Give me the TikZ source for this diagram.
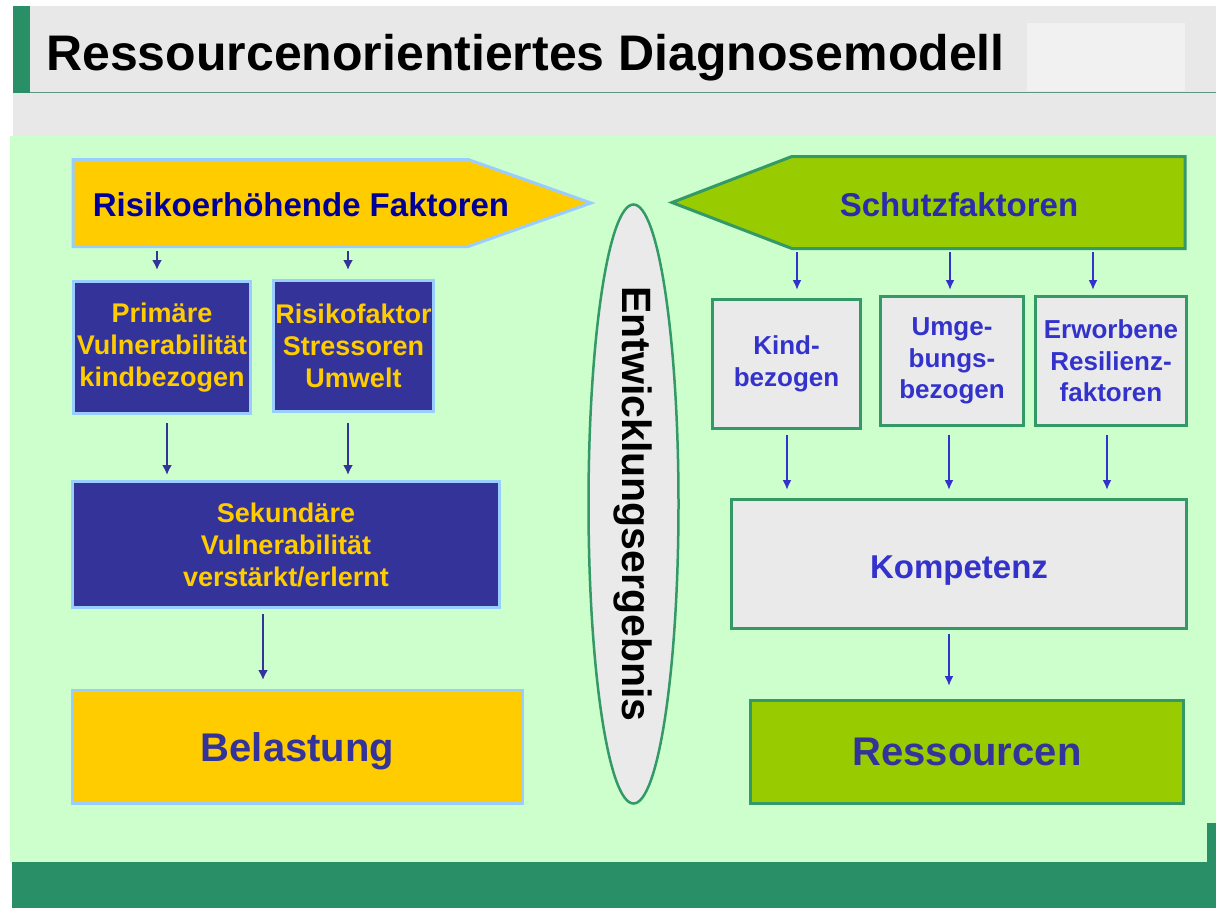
\documentclass[tikz,border=0pt]{standalone}
\usepackage{fontspec}
\setmainfont{Liberation Sans}
\usepackage{tikz}
\usetikzlibrary{shapes.geometric,shapes.symbols,arrows.meta}

\definecolor{darkgreen}{RGB}{40,143,103}
\definecolor{rulegreen}{RGB}{94,150,128}
\definecolor{lightgreen}{RGB}{204,255,204}
\definecolor{bandgrey}{RGB}{232,232,232}
\definecolor{paleband}{RGB}{241,241,241}
\definecolor{boxgrey}{RGB}{234,234,234}
\definecolor{gold}{RGB}{255,204,0}
\definecolor{skyline}{RGB}{153,204,255}
\definecolor{navy}{RGB}{51,51,153}
\definecolor{deepblue}{RGB}{0,0,153}
\definecolor{leaf}{RGB}{153,204,0}
\definecolor{seagreen}{RGB}{51,153,102}
\definecolor{ink}{RGB}{51,51,204}

\begin{document}
\begin{tikzpicture}[x=1pt,y=-1pt]
    \tikzstyle{box}=[rectangle,line width=3pt,inner sep=0pt,align=center]
    \tikzstyle{risk}=[box,fill=navy,draw=skyline,text=gold,font=\bfseries\fontsize{27}{32}\selectfont]
    \tikzstyle{shield}=[box,fill=boxgrey,draw=seagreen,text=ink,font=\bfseries\fontsize{26}{31.5}\selectfont]
    \tikzstyle{outcome}=[box,text depth=0pt,font=\bfseries\fontsize{40}{48}\selectfont]
    \tikzstyle{banner}=[signal,signal from=nowhere,line width=3pt,inner sep=0pt]
    \tikzstyle{heading}=[inner sep=0pt,font=\bfseries\fontsize{33}{40}\selectfont]
    \tikzstyle{navy arrow}=[-{Latex[length=10pt,width=10pt]},line width=2pt,draw=navy]
    \tikzstyle{ink arrow}=[-{Latex[length=10pt,width=9pt]},line width=2.5pt,draw=ink]

    \useasboundingbox (0,0) rectangle (1216,908);

    % Draw the page background and the title bar
    \fill[white] (0,0) rectangle (1216,908);
    \fill[bandgrey] (13,6) rectangle (1216,136);
    \fill[darkgreen] (13,6) rectangle (30,93);
    \fill[paleband] (1027,23) rectangle (1185,91);
    \draw[rulegreen,line width=1.5pt] (30,92.5) -- (1216,92.5);
    \fill[lightgreen] (10,136) rectangle (1216,862);
    \fill[darkgreen] (12,862) rectangle (1216,908);
    \fill[darkgreen] (1207,823) rectangle (1216,862);
    \node[anchor=base west,inner sep=0pt,font=\bfseries\fontsize{50}{60}\selectfont] (title) at (46,70) {Ressourcenorientiertes Diagnosemodell};

    % Draw the risk side
    \node[banner,signal to=east,signal pointer angle=39,fill=gold,draw=skyline,
          minimum width=518,minimum height=87,anchor=west] (risiko) at (71.5,203) {};
    \node[heading,text=deepblue] (risikotext) at (301,205) {Risikoerhöhende Faktoren};
    \node[risk,minimum width=177,minimum height=132] (prim) at (162,347.5) {Primäre\\Vulnerabilität\\kindbezogen};
    \node[risk,minimum width=160,minimum height=131] (stress) at (353.5,346) {Risikofaktor\\Stressoren\\Umwelt};
    \node[risk,minimum width=427,minimum height=126] (sek) at (286,544.5) {Sekundäre\\Vulnerabilität\\verstärkt/erlernt};
    \node[outcome,fill=gold,draw=skyline,text=navy,minimum width=450,minimum height=113] (bel) at (297.5,747) {Belastung};

    % Draw the outcome in the middle
    \node[ellipse,draw=seagreen,fill=boxgrey,line width=2.5pt,inner sep=0pt,minimum width=599,minimum height=90,
          rotate=-90,font=\bfseries\fontsize{41}{48}\selectfont] (ergebnis) at (633.5,504) {\makebox[0pt]{Entwicklungsergebnis}};

    % Draw the protective side
    \node[banner,signal to=west,signal pointer angle=42,fill=leaf,draw=seagreen,
          minimum width=513,minimum height=92,anchor=east] (schutz) at (1186.5,202.5) {};
    \node[heading,text=ink!85!black] (schutztext) at (959,205) {Schutzfaktoren};
    \node[shield,minimum width=148,minimum height=129] (kind) at (786.5,364) {Kind-\\bezogen};
    \node[shield,minimum width=143,minimum height=129] (umg) at (952,361) {Umge-\\bungs-\\bezogen};
    \node[shield,minimum width=151,minimum height=129] (erw) at (1111,361) {Erworbene\\Resilienz-\\faktoren};
    \node[shield,text height=29pt,text depth=0pt,font=\bfseries\fontsize{33}{40}\selectfont,
          minimum width=455,minimum height=129] (komp) at (959,564) {Kompetenz};
    \node[outcome,fill=leaf,draw=seagreen,text=navy,minimum width=433,minimum height=103] (res) at (967,752) {Ressourcen};

    % Connect the risk banner and boxes
    \coordinate (p-in) at ([xshift=-5pt]prim.north);
    \coordinate (s-in) at ([xshift=-5.5pt]stress.north);
    \draw[navy arrow,shorten <=3pt,shorten >=10pt] (risiko.south -| p-in) -- (p-in);
    \draw[navy arrow,shorten <=3pt,shorten >=9pt] (risiko.south -| s-in) -- (s-in);
    \draw[navy arrow,shorten <=8pt,shorten >=5pt] ([xshift=5pt]prim.south) -- ([xshift=-119pt]sek.north);
    \draw[navy arrow,shorten <=10pt,shorten >=5pt] ([xshift=-5.5pt]stress.south) -- ([xshift=62pt]sek.north);
    \draw[navy arrow,shorten <=5pt,shorten >=9pt] ([xshift=-23pt]sek.south) -- ([xshift=-34.5pt]bel.north);

    % Connect the protective banner and boxes
    \coordinate (k-in) at ([xshift=10.5pt]kind.north);
    \coordinate (u-in) at ([xshift=-2pt]umg.north);
    \coordinate (e-in) at ([xshift=-18pt]erw.north);
    \draw[ink arrow,shorten <=2pt,shorten >=8pt] (schutz.south -| k-in) -- (k-in);
    \draw[ink arrow,shorten <=2pt,shorten >=5pt] (schutz.south -| u-in) -- (u-in);
    \draw[ink arrow,shorten <=2pt,shorten >=5pt] (schutz.south -| e-in) -- (e-in);
    \draw[ink arrow,shorten <=5pt,shorten >=8pt] ([xshift=0.5pt]kind.south) -- ([xshift=-172pt]komp.north);
    \draw[ink arrow,shorten <=8pt,shorten >=8pt] ([xshift=-3pt]umg.south) -- ([xshift=-10pt]komp.north);
    \draw[ink arrow,shorten <=8pt,shorten >=8pt] ([xshift=-4pt]erw.south) -- ([xshift=148pt]komp.north);
    \draw[ink arrow,shorten <=4pt,shorten >=13pt] ([xshift=-10pt]komp.south) -- ([xshift=-18pt]res.north);
\end{tikzpicture}
\end{document}
